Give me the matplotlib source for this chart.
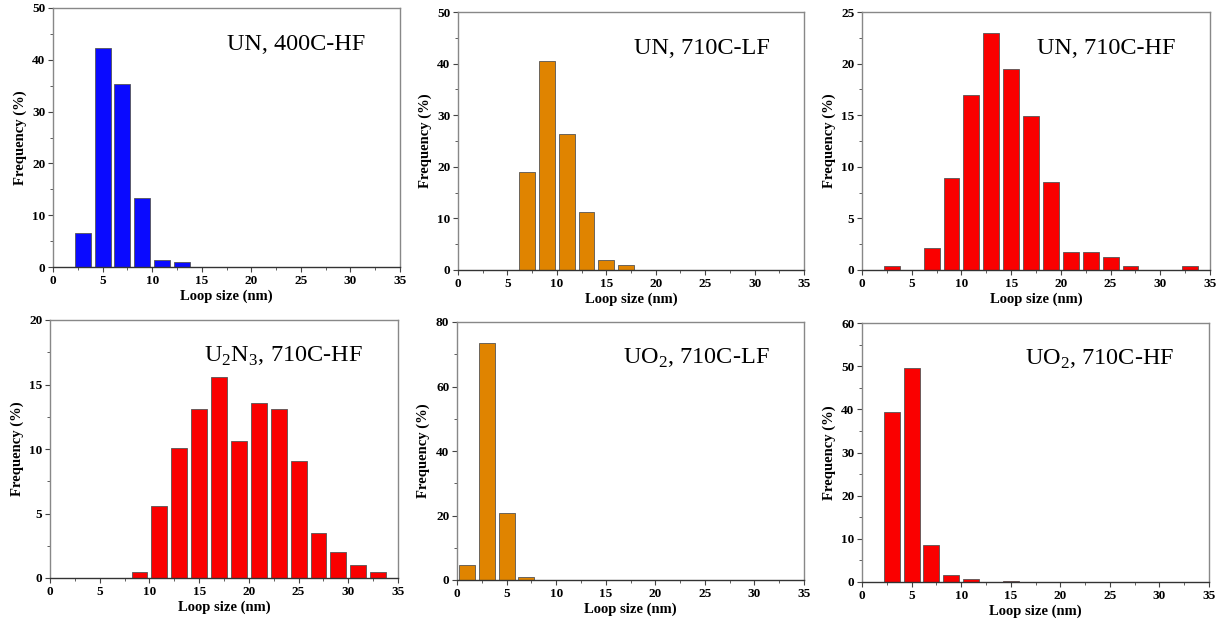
import matplotlib.pyplot as plt
import numpy as np
from matplotlib.ticker import MultipleLocator

plt.rcParams['font.family'] = ['Liberation Serif', 'DejaVu Serif']

# bin centres (nm) and frequencies (%)
un400_x = [3, 5, 7, 9, 11, 13]
un400_y = [6.5, 42.3, 35.4, 13.4, 1.3, 0.9]

un710lf_x = [7, 9, 11, 13, 15, 17]
un710lf_y = [18.9, 40.6, 26.4, 11.3, 1.9, 0.9]

un710hf_x = [3, 5, 7, 9, 11, 13, 15, 17, 19, 21, 23, 25, 27, 29, 31, 33]
un710hf_y = [0.4, 0, 2.1, 8.9, 17.0, 23.0, 19.5, 14.9, 8.5, 1.7, 1.7, 1.3, 0.4, 0, 0, 0.4]

u2n3_x = [9, 11, 13, 15, 17, 19, 21, 23, 25, 27, 29, 31, 33]
u2n3_y = [0.5, 5.6, 10.1, 13.1, 15.6, 10.6, 13.6, 13.1, 9.1, 3.5, 2.0, 1.0, 0.5]

uo2lf_x = [1, 3, 5, 7]
uo2lf_y = [4.8, 73.5, 20.8, 0.9]

uo2hf_x = [3, 5, 7, 9, 11, 13, 15]
uo2hf_y = [39.4, 49.5, 8.5, 1.6, 0.6, 0, 0.2]

labels = ['UN, 400C-HF', 'UN, 710C-LF', 'UN, 710C-HF',
          r'U$_2$N$_3$, 710C-HF', r'UO$_2$, 710C-LF', r'UO$_2$, 710C-HF']
ymax = [50, 50, 25, 20, 80, 60]
ystep = [10, 10, 5, 5, 20, 10]

blue = '#0a0aff'
orange = '#e08400'
red = '#fa0000'
colors = [blue, orange, red, red, orange, red]

panels = [(un400_x, un400_y), (un710lf_x, un710lf_y), (un710hf_x, un710hf_y),
          (u2n3_x, u2n3_y), (uo2lf_x, uo2lf_y), (uo2hf_x, uo2hf_y)]

# axes boxes in pixels: left, right, top, bottom
boxes = [(53, 400, 8, 267), (458, 804, 12, 270), (862, 1210, 12, 270),
         (50, 398, 320, 578), (457, 804, 322, 580), (862, 1209, 323, 582)]

W, H = 1224, 627
fig = plt.figure(figsize=(W / 100, H / 100), dpi=100)
plt.rcParams['mathtext.fontset'] = 'custom'
plt.rcParams['mathtext.rm'] = 'Liberation Serif'

for i, ((x, y), (l, r, t, b)) in enumerate(zip(panels, boxes)):
    ax = fig.add_axes([l / W, 1 - b / H, (r - l) / W, (b - t) / H])
    ax.bar(x, y, width=1.6, color=colors[i], edgecolor='#555555', linewidth=0.6)
    ax.set_xlim(0, 35)
    ax.set_ylim(0, ymax[i])
    ax.xaxis.set_major_locator(MultipleLocator(5))
    ax.xaxis.set_minor_locator(MultipleLocator(2.5))
    ax.yaxis.set_major_locator(MultipleLocator(ystep[i]))
    ax.yaxis.set_minor_locator(MultipleLocator(ystep[i] / 2))
    ax.tick_params(which='major', direction='out', length=3.5, width=0.8,
                   labelsize=9.5, color='#444444', pad=2)
    ax.tick_params(which='minor', direction='out', length=2, width=0.6, color='#444444')
    for lab in ax.get_xticklabels() + ax.get_yticklabels():
        lab.set_fontweight('bold')
    for side in ['top', 'right', 'left']:
        ax.spines[side].set_color('#888888')
        ax.spines[side].set_linewidth(1.0)
    ax.spines['bottom'].set_color('#333333')
    ax.spines['bottom'].set_linewidth(1.0)
    ax.set_xlabel('Loop size (nm)', fontsize=10.5, fontweight='bold', labelpad=2)
    ax.set_ylabel('Frequency (%)', fontsize=10.5, fontweight='bold', labelpad=4)
    ax.text(0.9, 0.86, labels[i], transform=ax.transAxes, ha='right', va='center',
            fontsize=17.5)

fig.savefig('out.png', dpi=100)
